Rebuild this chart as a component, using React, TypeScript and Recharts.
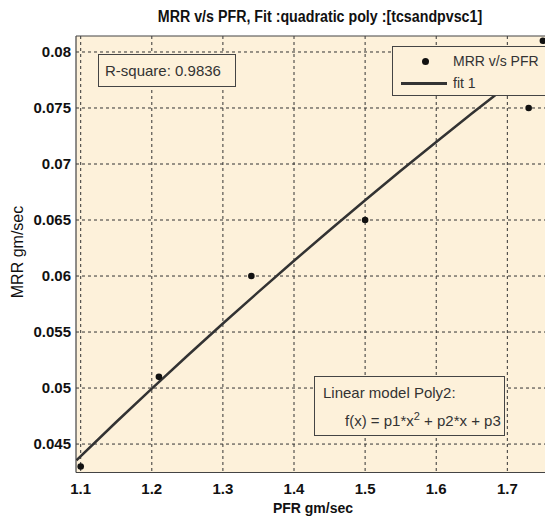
import React from "react";
import { ScatterChart, Scatter, XAxis, YAxis, CartesianGrid, ReferenceLine, Legend } from "recharts";

const pfr = [1.1, 1.21, 1.34, 1.5, 1.73, 1.75];
const mrr = [0.043, 0.051, 0.06, 0.065, 0.075, 0.081];
const fitX = [1.094, 1.15, 1.2, 1.25, 1.3, 1.35, 1.4, 1.45, 1.5, 1.55, 1.6, 1.65, 1.7, 1.75];
const fitY = [0.04355, 0.04697, 0.04995, 0.05288, 0.05576, 0.05858, 0.06136, 0.06409, 0.06677, 0.0694, 0.07197, 0.0745, 0.07698, 0.0795];
const xTicks = [1.1, 1.2, 1.3, 1.4, 1.5, 1.6, 1.7];
const yTicks = [0.045, 0.05, 0.055, 0.06, 0.065, 0.07, 0.075, 0.08];
const xDomain = [1.0934, 1.7811];
const yDomain = [0.04246, 0.081427];

const points = pfr.map((x, i) => ({ x, y: mrr[i] }));
const fit = fitX.map((x, i) => ({ x, y: fitY[i] }));

const FONT = "'Liberation Sans', Arial, sans-serif";
const BG = "#FDF1DA";

const LegendBox = () => (
  <div
    style={{
      position: "absolute",
      left: 392,
      top: 46,
      width: 200,
      height: 50,
      border: "1px solid #444",
      background: BG,
      fontFamily: FONT,
      fontSize: 14,
      color: "#333",
      boxSizing: "border-box",
    }}
  >
    <div style={{ position: "absolute", left: 29, top: 11, width: 7, height: 7, borderRadius: "50%", background: "#111" }} />
    <div style={{ position: "absolute", left: 60, top: 6, whiteSpace: "nowrap" }}>MRR v/s PFR</div>
    <div style={{ position: "absolute", left: 8, top: 35, width: 46, height: 2.5, background: "#333" }} />
    <div style={{ position: "absolute", left: 60, top: 28, whiteSpace: "nowrap" }}>fit 1</div>
  </div>
);

export default function App() {
  return (
    <div style={{ position: "absolute", left: 0, top: 0, width: 545, height: 517, overflow: "hidden", background: "#fff" }}>
      <ScatterChart width={565} height={517} margin={{ top: 36, right: 0, bottom: 14.5, left: 16 }}>
        <CartesianGrid fill={BG} stroke="#333" strokeDasharray="3 3" verticalValues={xTicks} horizontalValues={yTicks} />
        <XAxis
          type="number"
          dataKey="x"
          domain={xDomain}
          ticks={xTicks}
          allowDataOverflow
          height={30}
          tickLine={false}
          tickSize={0}
          tickMargin={11}
          axisLine={{ stroke: "#444", strokeWidth: 1.2 }}
          tick={{ fontFamily: FONT, fontSize: 15, fontWeight: "bold", fill: "#111" }}
        />
        <YAxis
          type="number"
          dataKey="y"
          domain={yDomain}
          ticks={yTicks}
          allowDataOverflow
          width={60}
          tickLine={false}
          tickSize={0}
          tickMargin={5}
          axisLine={{ stroke: "#444", strokeWidth: 1.2 }}
          tick={{ fontFamily: FONT, fontSize: 15, fontWeight: "bold", fill: "#111" }}
        />
        <ReferenceLine y={yDomain[1]} stroke="#444" strokeWidth={1.2} />
        <Scatter
          name="fit 1"
          data={fit}
          line={{ stroke: "#333", strokeWidth: 2.5 }}
          shape={() => <g />}
          isAnimationActive={false}
        />
        <Scatter
          name="MRR v/s PFR"
          data={points}
          shape={(p: any) => <circle cx={p.cx} cy={p.cy} r={3.3} fill="#111" />}
          isAnimationActive={false}
        />
        <Legend content={() => null} />
      </ScatterChart>
      <LegendBox />
      <div
        style={{
          position: "absolute",
          left: 98,
          top: 54,
          width: 138,
          height: 33,
          border: "1px solid #444",
          background: BG,
          boxSizing: "border-box",
          fontFamily: FONT,
          fontSize: 15,
          color: "#333",
          paddingLeft: 6,
          lineHeight: "31px",
          whiteSpace: "nowrap",
        }}
      >
        R-square: 0.9836
      </div>
      <div
        style={{
          position: "absolute",
          left: 314,
          top: 376,
          width: 191,
          height: 60,
          border: "1px solid #444",
          background: BG,
          boxSizing: "border-box",
          fontFamily: FONT,
          fontSize: 15,
          color: "#333",
          whiteSpace: "nowrap",
        }}
      >
        <div style={{ position: "absolute", left: 8, top: 7 }}>Linear model Poly2:</div>
        <div style={{ position: "absolute", left: 30, top: 33 }}>
          f(x) = p1*x<sup style={{ fontSize: 11 }}>2</sup> + p2*x + p3
        </div>
      </div>
      <div
        style={{
          position: "absolute",
          left: 320,
          top: 8,
          transform: "translateX(-50%) scaleX(0.89)",
          fontFamily: FONT,
          fontSize: 16,
          fontWeight: "bold",
          color: "#111",
          whiteSpace: "nowrap",
        }}
      >
        MRR v/s PFR, Fit :quadratic poly :[tcsandpvsc1]
      </div>
      <div
        style={{
          position: "absolute",
          left: 313,
          top: 500,
          transform: "translateX(-50%)",
          fontFamily: FONT,
          fontSize: 14,
          lineHeight: "16px",
          fontWeight: "bold",
          color: "#111",
          whiteSpace: "nowrap",
        }}
      >
        PFR gm/sec
      </div>
      <div
        style={{
          position: "absolute",
          left: 18,
          top: 252,
          transform: "translate(-50%, -50%) rotate(-90deg)",
          fontFamily: FONT,
          fontSize: 16,
          color: "#111",
          whiteSpace: "nowrap",
        }}
      >
        MRR gm/sec
      </div>
    </div>
  );
}
